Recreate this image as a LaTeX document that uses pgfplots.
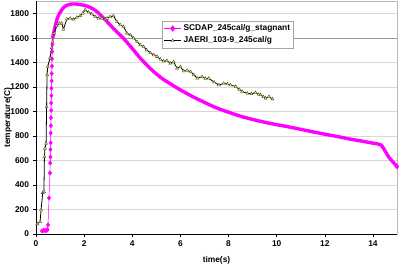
\documentclass[border=0pt]{standalone}
\usepackage{pgfplots}
\pgfplotsset{compat=1.18}
\usepackage{fontspec}
\setmainfont{Liberation Sans}
\definecolor{scdap}{RGB}{255,0,255}
\definecolor{gridc}{RGB}{215,215,215}
\definecolor{triy}{RGB}{235,235,80}
\begin{document}
\begin{tikzpicture}
\useasboundingbox (-36bp,-32bp) rectangle (364bp,234bp);
\begin{axis}[
  scale only axis,
  width=361bp, height=232.6bp,
  xmin=0, xmax=15, ymin=0, ymax=1900,
  xtick={0,2,...,14}, ytick={0,200,...,1800},
  xtick pos=bottom, ytick pos=left,
  tick align=outside, major tick length=3bp,
  tick style={black, line width=0.6pt},
  ymajorgrids, grid style={gridc, line width=0.5pt},
  axis line style={draw=gray!55, line width=0.6pt},
  /pgf/number format/assume math mode=true,
  /pgf/number format/1000 sep={},
  ticklabel style={font=\bfseries\fontsize{8.4}{10}\selectfont},
  yticklabel style={xshift=-0.5bp},
  xlabel={time(s)}, ylabel={temperature(C)},
  label style={font=\bfseries\fontsize{8.4}{10}\selectfont},
  xlabel style={yshift=-3bp},
  ylabel style={at={(axis description cs:0,0.5)}, anchor=center, yshift=28bp},
  clip=false,
  legend style={at={(0.349,0.916)}, anchor=north west, draw=gray!70,
    fill=white, font=\bfseries\fontsize{8.4}{10}\selectfont,
    inner sep=1.5pt, row sep=0.5pt, line width=0.6pt},
  legend cell align=left,
]
\draw[gray!80, line width=0.6pt] (axis cs:0,1600) -- (axis cs:15,1600);
% SCDAP early rise
\addplot[scdap, line width=0.5pt, mark=diamond*, mark size=2.2pt, forget plot] coordinates {
(0.25,25) (0.32,30) (0.38,28) (0.44,30) (0.48,35) (0.5,75) (0.54,294)
(0.58,498) (0.59,580) (0.6,629) (0.6,690) (0.61,745) (0.61,825) (0.62,885)
(0.62,950) (0.63,1010) (0.63,1070) (0.64,1130) (0.64,1190) (0.65,1250)
(0.65,1310) (0.66,1370) (0.66,1430) (0.67,1490) (0.68,1550) (0.7,1610)
};
% SCDAP main (dense markers -> thick band)
\addplot[scdap, line width=3.4pt, line join=round, line cap=round, smooth, tension=0.5, forget plot] coordinates {
(0.7,1610) (0.8,1700) (0.9,1770) (1.0,1810) (1.1,1840) (1.25,1865) (1.45,1878)
(1.7,1878) (2.0,1868) (2.2,1855) (2.4,1835) (2.6,1805) (2.8,1765) (3.0,1725)
(3.2,1683) (3.4,1643) (3.63,1600) (3.85,1550) (4.05,1503) (4.25,1455)
(4.46,1410) (4.67,1367) (4.88,1328) (5.1,1292) (5.3,1262) (5.6,1225)
(5.86,1193) (6.2,1155) (6.54,1119) (7.0,1075) (7.5,1030) (8.0,995)
(8.5,962) (9.0,936) (9.5,913) (10.0,893) (10.5,875) (11.0,855)
(11.5,835) (12.0,815) (12.5,797) (13.0,777) (13.5,760) (14.0,742)
(14.33,728) (14.5,680) (14.67,625) (14.85,585) (15.0,550)
};
\addplot[scdap, only marks, mark=diamond*, mark size=2.4pt, forget plot] coordinates {(15.0,550)};
\addlegendimage{scdap, line width=0.8pt, mark=diamond*, mark size=2.6pt}
\addlegendentry{SCDAP\_245cal/g\_stagnant}
% JAERI
\addplot[black, line width=0.8pt, mark=triangle*, mark size=1.8pt,
  mark options={fill=triy, draw=black!80, line width=0.3pt}] coordinates {
(0.05,82) (0.17,100) (0.21,196) (0.28,337) (0.33,345) (0.35,632) (0.375,700)
(0.42,740) (0.44,1040) (0.46,1300) (0.49,1367) (0.58,1437) (0.65,1520)
(0.69,1571) (0.75,1640) (0.86,1700) (0.97,1721) (1.07,1721) (1.14,1672)
(1.28,1755) (1.42,1762) (1.56,1753) (1.7,1770) (1.83,1782) (1.95,1803)
(2.04,1830) (2.18,1812) (2.32,1797) (2.46,1775) (2.6,1762) (2.74,1762)
(2.88,1755) (2.95,1762) (3.08,1775) (3.22,1781) (3.36,1735) (3.5,1707)
(3.64,1694) (3.78,1640) (3.92,1626) (4.05,1600) (4.2,1571) (4.33,1544)
(4.47,1530) (4.6,1503) (4.75,1480) (4.89,1462) (5.03,1450) (5.17,1427)
(5.3,1412) (5.44,1416) (5.58,1395) (5.72,1405) (5.86,1354) (6.0,1367)
(6.14,1330) (6.28,1336) (6.42,1326) (6.56,1300) (6.7,1272) (6.9,1285)
(7.04,1270) (7.18,1272) (7.4,1240) (7.6,1217) (7.8,1231) (7.95,1225)
(8.08,1217) (8.3,1204) (8.45,1180) (8.57,1163) (8.78,1149) (8.95,1145)
(9.12,1155) (9.25,1140) (9.33,1136) (9.45,1120) (9.54,1109) (9.68,1122)
(9.82,1103)
};
\addlegendentry{JAERI\_103-9\_245cal/g}
\draw[black, line width=0.8pt] (rel axis cs:0,1) -- (rel axis cs:0,0) -- (rel axis cs:1,0);
\end{axis}
\end{tikzpicture}
\end{document}
